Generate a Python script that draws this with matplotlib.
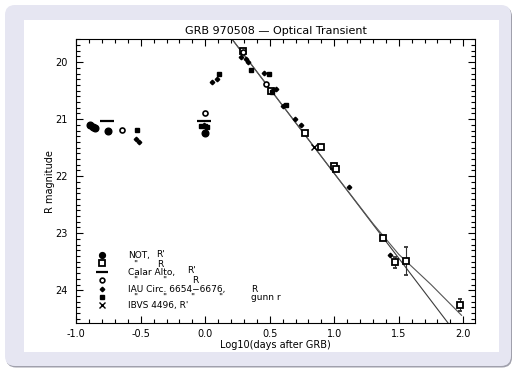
import numpy as np
import matplotlib
matplotlib.use("Agg")
from matplotlib import pyplot as plt
from matplotlib.patches import FancyBboxPatch, Rectangle
from matplotlib.ticker import MultipleLocator

# NOT, R'
not_Rp_x = [-0.894, -0.872, -0.857, -0.752, -0.002]
not_Rp_y = [21.11, 21.13, 21.15, 21.21, 21.25]

# NOT, R
not_R_x = [0.290, 0.507, 0.775, 0.897, 1.000, 1.012, 1.375]
not_R_y = [19.81, 20.51, 21.25, 21.49, 21.83, 21.87, 23.09]
# NOT, R con barre d'errore
not_Re_x = [1.473, 1.558, 1.977]
not_Re_y = [23.51, 23.49, 24.26]
not_Re_err = [0.10, 0.25, 0.10]

# Calar Alto, R'
ca_Rp_x = [-0.764, -0.010]
ca_Rp_y = [21.03, 21.03]
# Calar Alto, R
ca_R_x = [-0.648, -0.005, 0.290, 0.470]
ca_R_y = [21.19, 20.90, 19.83, 20.39]

# IAU Circ., R
iau_R_x = [-0.537, -0.514, -0.010, 0.054, 0.093, 0.274, 0.315, 0.333,
           0.457, 0.527, 0.550, 0.605, 0.693, 0.740, 1.111, 1.432]
iau_R_y = [21.34, 21.40, 21.10, 20.35, 20.30, 19.91, 19.94, 20.00,
           20.19, 20.48, 20.47, 20.77, 21.00, 21.10, 22.19, 23.39]

# IAU Circ., gunn r
iau_r_x = [-0.527, -0.030, 0.000, 0.015, 0.106, 0.354, 0.496, 0.515, 0.626]
iau_r_y = [21.19, 21.12, 21.12, 21.14, 20.20, 20.14, 20.20, 20.53, 20.75]

# IBVS 4496, R'
ibvs_x = [0.845]
ibvs_y = [21.49]

# curve di fit
fit1_x = [0.209, 1.884]
fit1_y = [19.60, 24.58]
fit2_x = [0.209, 1.000, 1.300, 1.500, 1.750, 1.987]
fit2_y = [19.60, 21.95, 22.83, 23.37, 23.90, 24.44]

matplotlib.rcParams['font.family'] = 'DejaVu Sans'
matplotlib.rcParams['axes.unicode_minus'] = False

fig = plt.figure(figsize=(5.15, 3.71), dpi=100)

# cornice
shadow = FancyBboxPatch((0.06, 0.035), 5.06, 3.61,
    boxstyle="round,pad=0,rounding_size=0.1",
    transform=fig.dpi_scale_trans, fc='#a0a0ac', ec='none', zorder=-3)
panel = FancyBboxPatch((0.05, 0.05), 5.06, 3.61,
    boxstyle="round,pad=0,rounding_size=0.1",
    transform=fig.dpi_scale_trans, fc='#e6e6f2', ec='none', zorder=-2)
inner = Rectangle((0.24, 0.19), 4.75, 3.32,
    transform=fig.dpi_scale_trans, fc='white', ec='none', zorder=-1)
fig.patches.extend([shadow, panel, inner])

ax = fig.add_axes((0.148, 0.1286, 0.774, 0.7654))
ax.set_facecolor('none')

ax.plot(fit1_x, fit1_y, '-', c='#3c3c3c', lw=0.8, zorder=1)
ax.plot(fit2_x, fit2_y, '-', c='#555555', lw=0.8, zorder=1)

ax.plot(not_Rp_x, not_Rp_y, 'o', c='black', ms=4.8, zorder=3)
ax.plot(not_R_x, not_R_y, 's', mfc='white', mec='black', mew=1.3, ms=4.6, zorder=3)
ax.errorbar(not_Re_x, not_Re_y, yerr=not_Re_err, fmt='s', mfc='white',
    mec='black', mew=1.3, ms=4.6, ecolor='#333333', elinewidth=0.8,
    capsize=1.5, zorder=3)
ax.plot(ca_Rp_x, ca_Rp_y, '_', c='black', ms=10, mew=1.6, zorder=3)
ax.plot(ca_R_x, ca_R_y, 'o', mfc='white', mec='black', mew=1.2, ms=3.6, zorder=4)
ax.plot(iau_R_x, iau_R_y, 'D', c='black', ms=2.3, zorder=4)
ax.plot(iau_r_x, iau_r_y, 's', c='black', ms=2.8, zorder=4)
ax.plot(ibvs_x, ibvs_y, 'x', c='black', ms=4, mew=1.0, zorder=4)

# legenda fatta a mano
lx = -0.798
rows = [23.386, 23.53, 23.68, 23.82, 23.97, 24.12, 24.26]
ax.plot(lx, rows[0], 'o', c='black', ms=4.2)
ax.plot(lx, rows[1], 's', mfc='white', mec='black', mew=1.3, ms=4.3)
ax.plot(lx, rows[2], '_', c='black', ms=9, mew=1.6)
ax.plot(lx, rows[3], 'o', mfc='white', mec='black', mew=1.2, ms=3.4)
ax.plot(lx, rows[4], 'D', c='black', ms=2.3)
ax.plot(lx, rows[5], 's', c='black', ms=2.8)
ax.plot(lx, rows[6], 'x', c='black', ms=4, mew=1.0)

fs = 6.5
dy = 0.055
def t(x, y, s):
    ax.text(x, y + dy, s, fontsize=fs, ha='left', va='baseline')

t(-0.597, rows[0], "NOT,")
t(-0.382, rows[0] - 0.03, "R'")
t(-0.560, rows[1], '"')
t(-0.374, rows[1], "R")
t(-0.597, rows[2], "Calar Alto,")
t(-0.144, rows[2] - 0.03, "R'")
t(-0.560, rows[3], '"')
t(-0.336, rows[3], '"')
t(-0.105, rows[3], "R")
t(-0.597, rows[4], "IAU Circ. 6654\u22126676,")
t(0.352, rows[4], "R")
for qx in [-0.560, -0.336, -0.119, 0.098]:
    t(qx, rows[5], '"')
t(0.352, rows[5], "gunn r")
t(-0.597, rows[6], "IBVS 4496, R'")

ax.set_xlim(-1.0, 2.09)
ax.set_ylim(24.58, 19.6)
ax.xaxis.set_major_locator(MultipleLocator(0.5))
ax.xaxis.set_minor_locator(MultipleLocator(0.1))
ax.yaxis.set_major_locator(MultipleLocator(1))
ax.yaxis.set_minor_locator(MultipleLocator(0.1))
ax.xaxis.set_major_formatter(matplotlib.ticker.FormatStrFormatter('%.1f'))
ax.tick_params(which='both', direction='in', top=True, right=True,
    width=0.8, labelsize=7)
ax.tick_params(axis='x', pad=4)
ax.tick_params(axis='y', pad=6)
ax.tick_params(which='major', length=5)
ax.tick_params(which='minor', length=3)
for s in ax.spines.values():
    s.set_linewidth(0.8)

ax.set_title("GRB 970508 \u2014 Optical Transient", fontsize=8, pad=4)
ax.set_xlabel("Log10(days after GRB)", fontsize=7, labelpad=1)
ax.set_ylabel("R magnitude", fontsize=7, labelpad=0)

fig.savefig("out.png", dpi=100)
